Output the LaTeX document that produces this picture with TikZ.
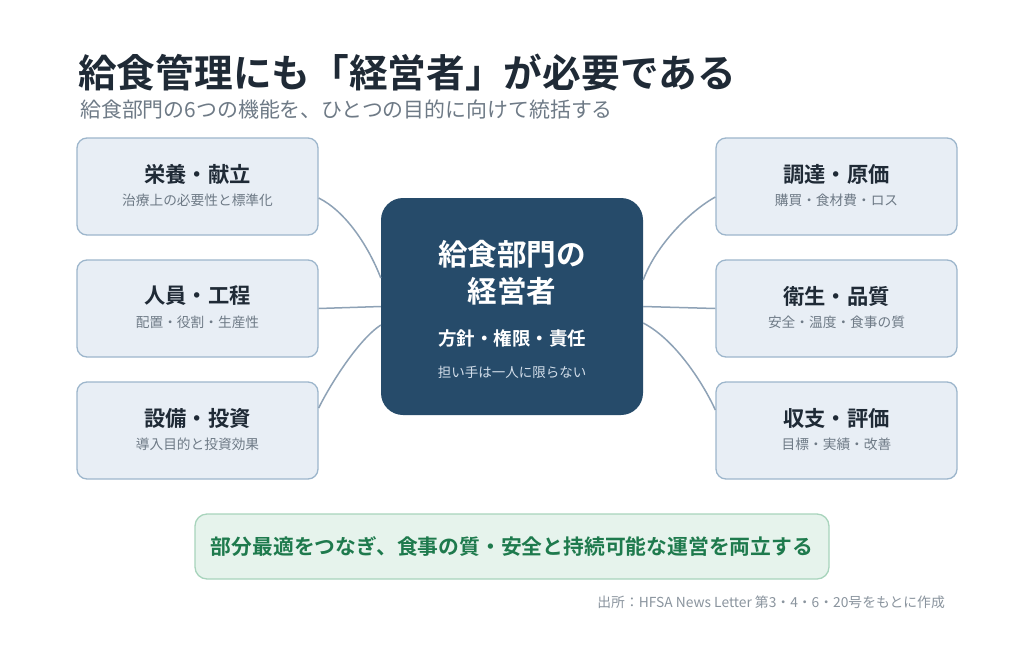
\documentclass[tikz,border=0pt]{standalone}
\usepackage{fontspec}
\setmainfont{Noto Sans CJK JP}[BoldFont={Noto Sans CJK JP Bold}]
\definecolor{titlec}{HTML}{1F2A36}
\definecolor{subc}{HTML}{6E7A86}
\definecolor{boxfill}{HTML}{E8EEF5}
\definecolor{boxline}{HTML}{9DB6CC}
\definecolor{centerfill}{HTML}{264B6A}
\definecolor{linkc}{HTML}{8EA2B6}
\definecolor{greenfill}{HTML}{E6F3EC}
\definecolor{greenline}{HTML}{A8D4BC}
\definecolor{greentext}{HTML}{1E7A4D}
\definecolor{centersub}{HTML}{D3DEEA}
\definecolor{srcc}{HTML}{8A949E}
\begin{document}
\begin{tikzpicture}[x=1pt,y=-1pt,
  fbox/.style={draw=boxline,fill=boxfill,line width=1.3pt,rounded corners=10pt,minimum width=241pt,minimum height=97pt,inner sep=0pt},
  ftitle/.style={text=titlec,font=\fontsize{21.3}{24}\selectfont\bfseries,anchor=center,inner sep=0pt},
  fsub/.style={text=subc,font=\fontsize{13.7}{16}\selectfont,anchor=center,inner sep=0pt},
  link/.style={draw=linkc,line width=1.5pt}]
\useasboundingbox (0,0) rectangle (1024,651);
\fill[white] (0,0) rectangle (1024,651);
% title
\node[anchor=west,text=titlec,font=\fontsize{38.7}{42}\selectfont\bfseries,inner sep=0pt] (title) at (78,73) {給食管理にも「経営者」が必要である};
\node[anchor=west,text=subc,font=\fontsize{20.9}{24}\selectfont,inner sep=0pt] (subtitle) at (80,110) {給食部門の6つの機能を、ひとつの目的に向けて統括する};
% boxes
\node[fbox] (b1) at (197.5,186.5) {};
\node[fbox] (b2) at (197.5,308.5) {};
\node[fbox] (b3) at (197.5,430.5) {};
\node[fbox] (b4) at (836.5,186.5) {};
\node[fbox] (b5) at (836.5,308.5) {};
\node[fbox] (b6) at (836.5,430.5) {};
\node[ftitle] (t1) at (197.5,174) {栄養・献立};
\node[fsub] (s1) at (197.5,200) {治療上の必要性と標準化};
\node[ftitle] (t2) at (197.5,296) {人員・工程};
\node[fsub] (s2) at (197.5,322) {配置・役割・生産性};
\node[ftitle] (t3) at (197.5,418) {設備・投資};
\node[fsub] (s3) at (197.5,444) {導入目的と投資効果};
\node[ftitle] (t4) at (836.5,174) {調達・原価};
\node[fsub] (s4) at (836.5,200) {購買・食材費・ロス};
\node[ftitle] (t5) at (836.5,296) {衛生・品質};
\node[fsub] (s5) at (836.5,322) {安全・温度・食事の質};
\node[ftitle] (t6) at (836.5,418) {収支・評価};
\node[fsub] (s6) at (836.5,444) {目標・実績・改善};
% center
\node[fill=centerfill,rounded corners=22pt,minimum width=262pt,minimum height=217pt,inner sep=0pt] (c) at (512,306.5) {};
\node[text=white,font=\fontsize{29.6}{37}\selectfont\bfseries,align=center,inner sep=0pt] (ct) at (512,272.5) {給食部門の\\経営者};
\node[text=white,font=\fontsize{18.5}{21}\selectfont\bfseries,inner sep=0pt] (cs) at (512,338) {方針・権限・責任};
\node[text=centersub,font=\fontsize{13.5}{16}\selectfont,inner sep=0pt] (cn) at (512,372) {担い手は一人に限らない};
% connectors
\draw[link] ([yshift=-11.5pt]b1.east) .. controls (345,211) and (368,245) .. ([yshift=28.5pt]c.west);
\draw[link] (b2.east) -- (c.west);
\draw[link] ([yshift=22.5pt]b3.east) .. controls (330,385) and (358,340) .. ([yshift=-18.5pt]c.west);
\draw[link] ([yshift=26.5pt]c.east) .. controls (656,245) and (690,211) .. ([yshift=-10.5pt]b4.west);
\draw[link] (c.east) -- (b5.west);
\draw[link] ([yshift=-16.5pt]c.east) .. controls (676,340) and (704,385) .. ([yshift=20.5pt]b6.west);
% bottom message
\node[draw=greenline,fill=greenfill,line width=1.3pt,rounded corners=12pt,minimum width=634pt,minimum height=65pt,inner sep=0pt] (msg) at (512,546.5) {};
\node[text=greentext,font=\fontsize{20.8}{24}\selectfont\bfseries,inner sep=0pt] (msgt) at (512,546.5) {部分最適をつなぎ、食事の質・安全と持続可能な運営を両立する};
% source
\node[anchor=east,text=srcc,font=\fontsize{13.8}{16}\selectfont,inner sep=0pt] (src) at (945,602) {出所：HFSA News Letter 第3・4・6・20号をもとに作成};
\end{tikzpicture}
\end{document}
